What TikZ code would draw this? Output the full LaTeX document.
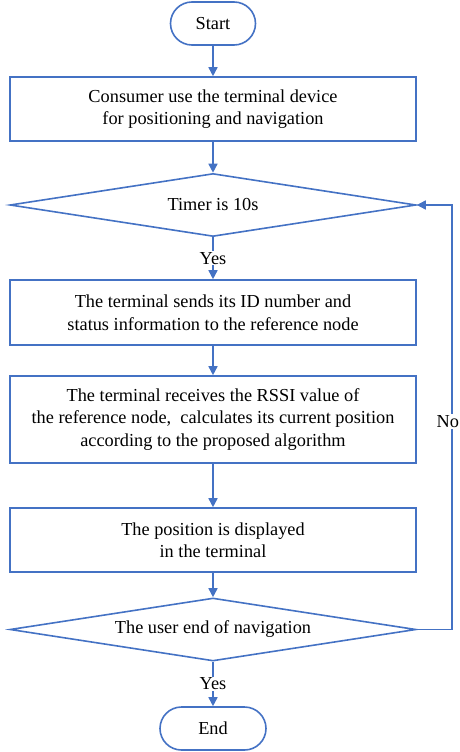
\documentclass[tikz,border=0pt]{standalone}
\usepackage{fontspec}
\setmainfont{Liberation Serif}
\usetikzlibrary{shapes.geometric,arrows.meta}
\definecolor{flowblue}{RGB}{68,114,196}

\begin{document}
\begin{tikzpicture}[x=1pt, y=-1pt,
    every node/.style={font=\fontsize{18.3}{22.5}\selectfont},
    flowline/.style={draw=flowblue, line width=1.6pt},
    flow/.style={flowline, -{Triangle[length=9pt,width=9pt]}},
    startstop/.style={flowline, rounded corners=21.5pt, minimum height=43pt},
    process/.style={flowline, rectangle, minimum width=406pt, align=center},
    decision/.style={flowline, diamond, aspect=6, minimum width=406pt, minimum height=63pt, inner sep=1pt},
    answer/.style={fill=white, inner sep=1pt}
]
    % Define the page
    \useasboundingbox (0,0) rectangle (459,752);

    % Steps
    \node[startstop, minimum width=85pt] (start) at (213,23.5) {Start};
    \node[process, minimum height=64pt] (use) at (213,109)
        {Consumer use the terminal device\\for positioning and navigation};
    \node[decision] (timer) at (213,205) {Timer is 10s};
    \node[process, minimum height=65pt] (send) at (213,312.5)
        {The terminal sends its ID number and\\status information to the reference node};
    \node[process, minimum height=87pt] (recv) at (213,419.5)
        {The terminal receives the RSSI value of\\the reference node,\ \ calculates its current position\\according to the proposed algorithm};
    \node[process, minimum height=64pt] (show) at (213,540)
        {The position is displayed\\in the terminal};
    \node[decision] (quit) at (213,629.5) {The user end of navigation};
    \node[startstop, minimum width=106pt] (stop) at (213,728.5) {End};

    % Arrows
    \draw[flow] (start) -- (use);
    \draw[flow] (use) -- (timer);
    \draw[flow] (timer) -- node[answer] {Yes} (send);
    \draw[flow] (send) -- (recv);
    \draw[flow] (recv) -- (show);
    \draw[flow] (show) -- (quit);
    \draw[flow] (quit) -- node[answer] {Yes} (stop);

    % Loop back
    \draw[flow] (quit.east) -- ++(35,0) |- node[answer, pos=0.245, xshift=-4pt, inner xsep=0pt] {No} (timer.east);
\end{tikzpicture}
\end{document}
